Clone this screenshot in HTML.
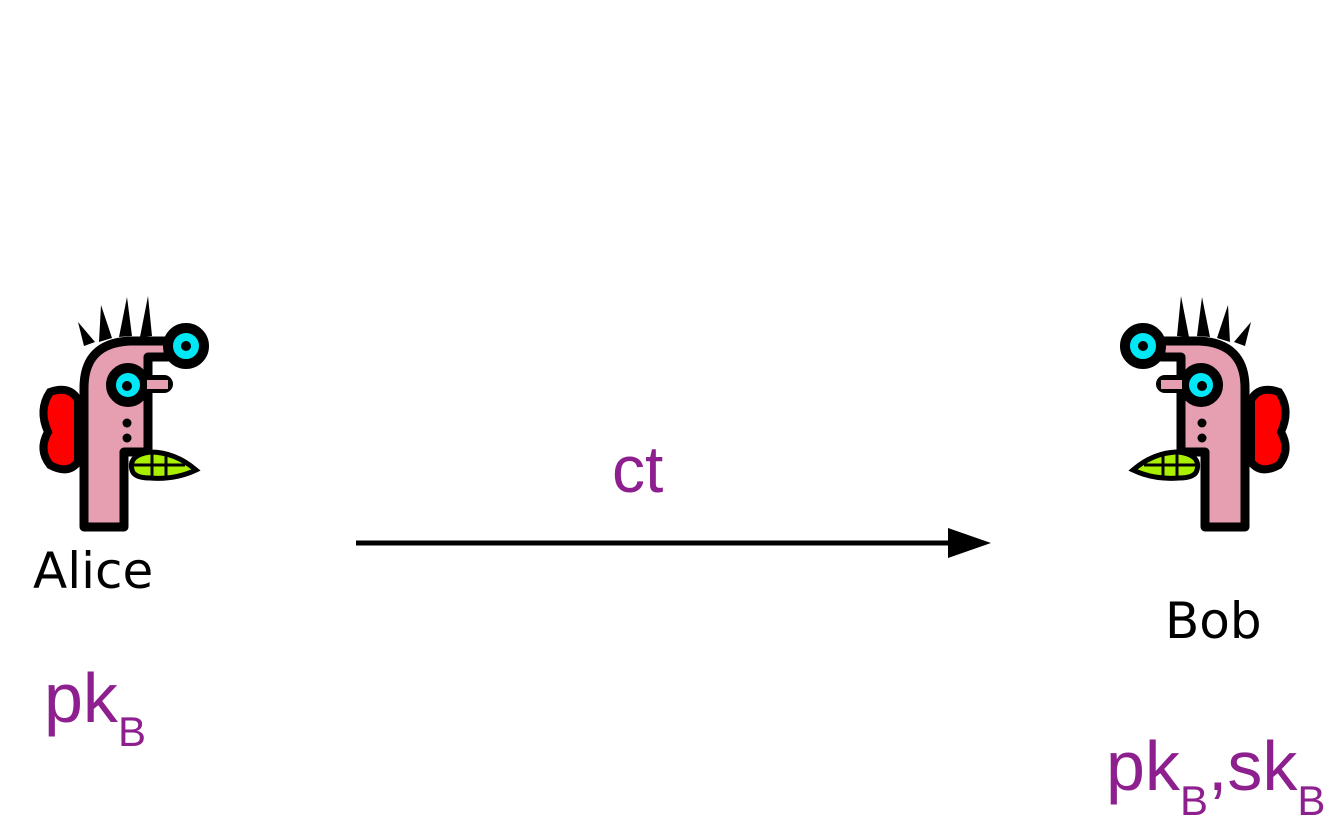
<!DOCTYPE html>
<html><head><meta charset="utf-8"><style>
html,body{margin:0;padding:0;background:#fff;}
svg{display:block;}
text{font-family:"DejaVu Sans","Liberation Sans",sans-serif;}
.p{fill:#8e1f8e;font-family:"Liberation Sans",sans-serif;}
</style></head><body>
<svg width="1335" height="840" viewBox="0 0 1335 840">
<defs>
<g id="face">
  <polygon points="78,322 95,342 84,346" fill="#000"/>
  <polygon points="101,305 112,338 99,342" fill="#000"/>
  <polygon points="127,297 132,336 119,337" fill="#000"/>
  <polygon points="148,296 152,336 140,337" fill="#000"/>
  <path d="M50,392 Q70,385 78,400 L78,462 Q68,475 50,465 Q38,450 48,432 Q38,410 50,392 Z" fill="#ff0000" stroke="#000" stroke-width="8"/>
  <path d="M84,527 L84,388 Q84,343 130,341 L168,341 L168,357 L148,357 L148,452 L124,452 L124,527 Z" fill="#e59fb0" stroke="#000" stroke-width="9" stroke-linejoin="round"/>
  <circle cx="186" cy="346" r="18" fill="#00e8f5" stroke="#000" stroke-width="10"/>
  <circle cx="186" cy="346" r="5" fill="#000"/>
  <rect x="140" y="378" width="30" height="12" rx="6" fill="#e59fb0" stroke="#000" stroke-width="6"/>
  <circle cx="128" cy="385" r="17" fill="#00e8f5" stroke="#000" stroke-width="10"/>
  <rect x="147" y="380" width="21" height="9" fill="#e59fb0"/>
  <circle cx="127" cy="386" r="5" fill="#000"/>
  <circle cx="127" cy="423" r="4.5" fill="#000"/>
  <circle cx="127" cy="438" r="4.5" fill="#000"/>
  <path d="M132,470 Q128,455 150,452 Q175,452 196,470 Q175,480 150,478 Q134,478 132,470 Z" fill="#a8f000" stroke="#000" stroke-width="5"/>
  <line x1="152" y1="453" x2="152" y2="478" stroke="#000" stroke-width="3"/>
  <line x1="166" y1="454" x2="166" y2="478" stroke="#000" stroke-width="3"/>
  <line x1="134" y1="465" x2="185" y2="465" stroke="#000" stroke-width="3"/>
</g>
</defs>
<use href="#face"/>
<use href="#face" transform="translate(1329,0) scale(-1,1)"/>
<text x="33" y="588" font-size="50" fill="#000">Alice</text>
<text x="1165" y="638" font-size="50" fill="#000">Bob</text>
<line x1="356" y1="543" x2="952" y2="543" stroke="#000" stroke-width="5"/>
<polygon points="948,528 991,543 948,558" fill="#000"/>
<text class="p" x="612" y="492" font-size="66">ct</text>
<text class="p" x="44" y="722" font-size="70">pk<tspan font-size="42" dy="24">B</tspan></text>
<text class="p" x="1106" y="790" font-size="70">pk<tspan font-size="42" dy="25">B</tspan><tspan dy="-25">,sk</tspan><tspan font-size="42" dy="25">B</tspan></text>
</svg>
</body></html>
